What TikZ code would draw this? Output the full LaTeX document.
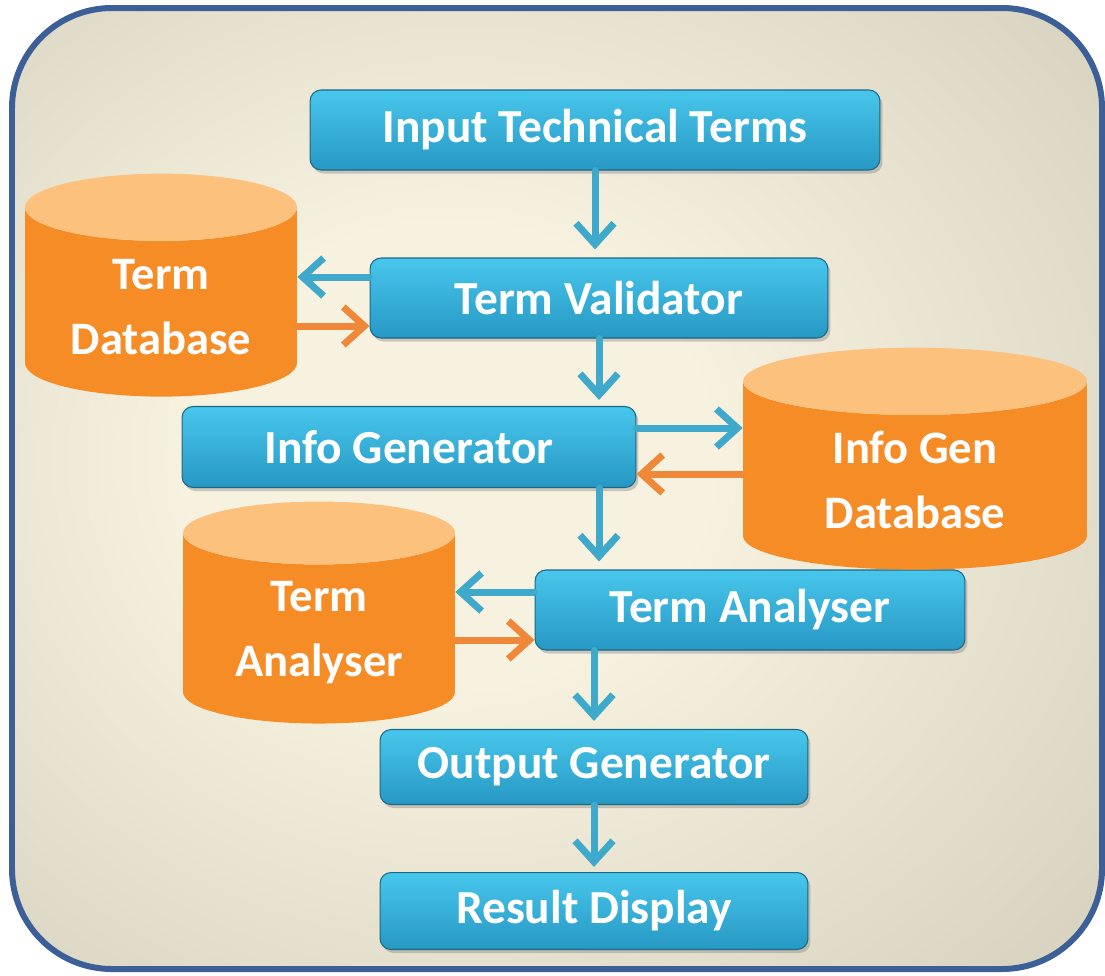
\documentclass[tikz,border=0pt]{standalone}
\usepackage{fontspec}
\setmainfont{Carlito}
\usepackage{xcolor}
\usetikzlibrary{positioning,shapes.geometric,arrows.meta,shadows,calc}
\definecolor{framecolor}{RGB}{59,95,150}
\definecolor{bginner}{RGB}{247,242,224}
\definecolor{bgmid}{RGB}{204,199,179}
\definecolor{bgouter}{RGB}{156,153,136}
\definecolor{boxtop}{RGB}{72,198,236}
\definecolor{boxbottom}{RGB}{38,152,195}
\definecolor{boxline}{RGB}{28,104,134}
\definecolor{dbbody}{RGB}{245,140,38}
\definecolor{dbtop}{RGB}{252,193,125}
\definecolor{bluearrow}{RGB}{63,169,204}
\definecolor{orangearrow}{RGB}{240,136,58}
\pgfdeclareradialshading{bgglow}{\pgfpoint{-6bp}{2bp}}{color(0bp)=(bginner); color(12bp)=(bginner); color(46bp)=(bgmid); color(72bp)=(bgouter)}

\begin{document}
\begin{tikzpicture}[x=0.02cm, y=-0.02cm]
    % Define styles
    \tikzstyle{process} = [rectangle, rounded corners=0.22cm, text centered, draw=boxline, line width=0.6pt, top color=boxtop, bottom color=boxbottom, text=white, font=\fontsize{27}{32}\selectfont\bfseries, drop shadow={opacity=0.4, shadow xshift=0.05cm, shadow yshift=-0.07cm}]
    \tikzstyle{database} = [cylinder, shape border rotate=90, aspect=0.35, cylinder uses custom fill, cylinder body fill=dbbody, cylinder end fill=dbtop, text=white, align=center, font=\fontsize{26.5}{37}\selectfont\bfseries]
    \tikzstyle{flowblue} = [-{Straight Barb[length=0.42cm, width=0.76cm]}, line width=0.14cm, draw=bluearrow, line cap=round, line join=round]
    \tikzstyle{floworange} = [flowblue, draw=orangearrow]

    % Background frame
    \useasboundingbox (0,0) rectangle (1105,975);
    \shadedraw[shading=bgglow, draw=framecolor, line width=0.12cm, rounded corners=2cm] (12,8) rectangle (1102,969);

    % Process boxes
    \node [process, minimum width=11.4cm, minimum height=1.6cm] (input) at (595,130) {Input Technical Terms};
    \node [process, minimum width=9.16cm, minimum height=1.6cm] (validator) at (599,298) {Term Validator};
    \node [process, minimum width=9.08cm, minimum height=1.62cm] (infogen) at (409,447) {Info Generator};
    \node [process, minimum width=8.6cm, minimum height=1.6cm] (analyser) at (750,610) {Term Analyser};
    \node [process, minimum width=8.56cm, minimum height=1.5cm] (output) at (594,767) {Output Generator};
    \node [process, minimum width=8.56cm, minimum height=1.54cm] (result) at (594,911) {Result Display};

    % Databases
    \node [database, minimum width=5.44cm, minimum height=4.46cm] (termdb) at (161,307) {Term\\Database};
    \node [database, minimum width=6.88cm, minimum height=4.44cm] (infogendb) at (915,480) {Info Gen\\Database};
    \node [database, minimum width=5.44cm, minimum height=4.44cm] (analyserdb) at (319,633) {Term\\Analyser};

    % Main flow
    \draw [flowblue, shorten >=0.16cm] (input.south) -- (input.south |- validator.north);
    \draw [flowblue, shorten >=0.12cm] (validator.south) -- (validator.south |- infogen.north);
    \draw [flowblue, shorten >=0.16cm] (validator.south |- infogen.south) -- (validator.south |- analyser.north);
    \draw [flowblue, shorten >=0.16cm] (output.north |- analyser.south) -- (output.north);
    \draw [flowblue, shorten >=0.1cm] (output.south) -- (result.north);

    % Database links
    \draw [flowblue] ([yshift=0.42cm]validator.west) -- ([yshift=0.42cm]validator.west -| termdb.east);
    \draw [floworange] ([yshift=-0.56cm]validator.west -| termdb.east) -- ([yshift=-0.56cm]validator.west);
    \draw [flowblue] ([yshift=0.38cm]infogen.east) -- ([yshift=0.38cm]infogen.east -| infogendb.west);
    \draw [floworange] ([yshift=-0.54cm]infogen.east -| infogendb.west) -- ([yshift=-0.54cm]infogen.east);
    \draw [flowblue] ([yshift=0.36cm]analyser.west) -- ([yshift=0.36cm]analyser.west -| analyserdb.east);
    \draw [floworange] ([yshift=-0.6cm]analyser.west -| analyserdb.east) -- ([yshift=-0.6cm]analyser.west);
\end{tikzpicture}
\end{document}
